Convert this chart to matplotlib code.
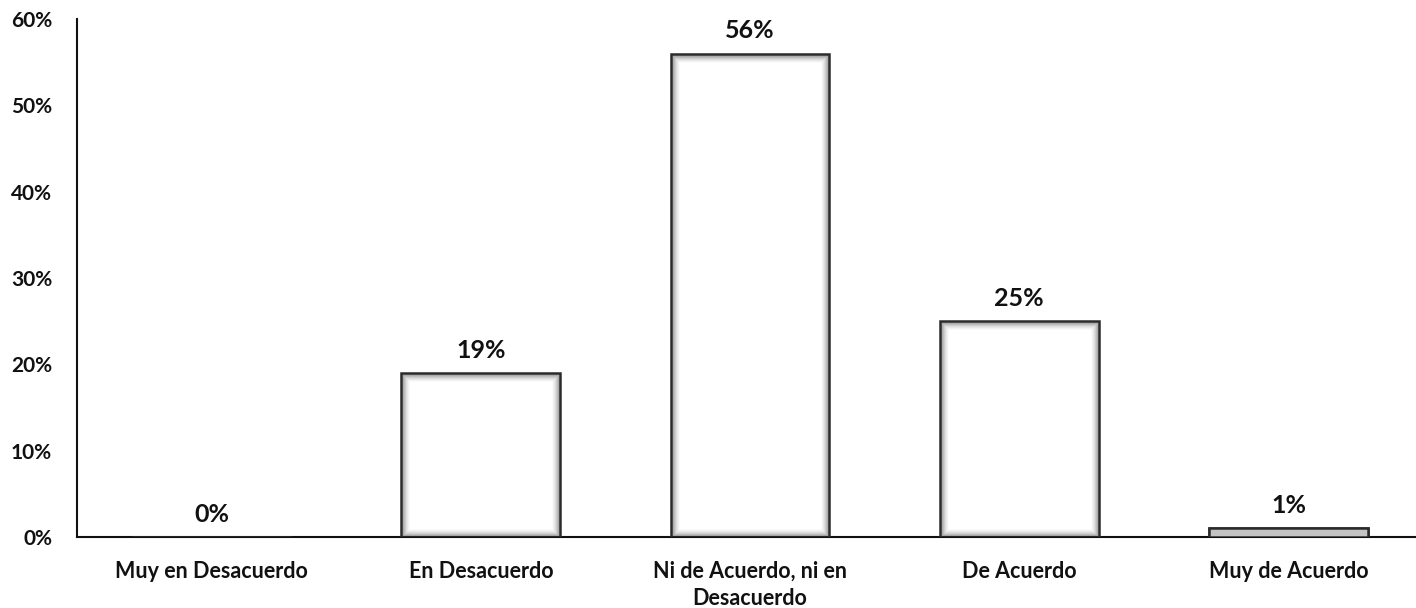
import matplotlib.pyplot as plt

# survey answers and share of respondents (%)
categories = [
    "Muy en Desacuerdo",
    "En Desacuerdo",
    "Ni de Acuerdo, ni en\nDesacuerdo",
    "De Acuerdo",
    "Muy de Acuerdo",
]
values = [0, 19, 56, 25, 1]
y_ticks = [0, 10, 20, 30, 40, 50, 60]

plt.rcParams["font.family"] = ["Lato", "DejaVu Sans"]

fig = plt.figure(figsize=(14.16, 6.08), dpi=100)
ax = fig.add_axes([0.0544, 0.1168, 0.9506, 0.852])

x = list(range(len(categories)))
bar_w = 0.59

# soft grey inner shading, drawn as nested outlines fading inward
px_x = 1 / 269.0   # one pixel in x data units
px_y = 60 / 518.0  # one pixel in y data units
for k, alpha in enumerate([0.30, 0.24, 0.18, 0.12, 0.08, 0.05, 0.03], start=1):
    for xi, v in zip(x, values):
        if v <= 0:
            continue
        inset_y = min(k * px_y, v / 2 * 0.9)
        h = v - 2 * inset_y
        if h <= 0:
            continue
        ax.bar(xi, h, bottom=inset_y, width=bar_w - 2 * k * px_x,
               facecolor="none", edgecolor="#666666", linewidth=2.0,
               alpha=alpha, zorder=2)

ax.bar(x, values, width=bar_w, facecolor="none", edgecolor="#2b2b2b",
       linewidth=1.8, zorder=3)
# the thinnest bar reads as a grey strip
ax.bar(x[4], values[4], width=bar_w, facecolor="#c4c4c4", edgecolor="#2b2b2b",
       linewidth=1.8, zorder=3)

for xi, v in zip(x, values):
    ax.annotate(f"{v}%", (xi, v), xytext=(0, 8), textcoords="offset points",
                ha="center", va="bottom", fontsize=18, fontweight="bold",
                color="#111111")

ax.set_xlim(-0.5, len(categories) - 0.5)
ax.set_ylim(0, 60)
ax.set_yticks(y_ticks)
ax.set_yticklabels([f"{t}%" for t in y_ticks])
ax.set_xticks(x)
ax.set_xticklabels(categories, linespacing=1.35)

ax.tick_params(axis="y", length=0, pad=18, labelsize=15)
ax.tick_params(axis="x", length=0, pad=17, labelsize=15.5)
for lbl in ax.get_xticklabels() + ax.get_yticklabels():
    lbl.set_fontweight("bold")
    lbl.set_color("#111111")

for side in ["top", "right"]:
    ax.spines[side].set_visible(False)
for side in ["left", "bottom"]:
    ax.spines[side].set_color("#111111")
    ax.spines[side].set_linewidth(1.5)

fig.savefig("out.png", dpi=100)
